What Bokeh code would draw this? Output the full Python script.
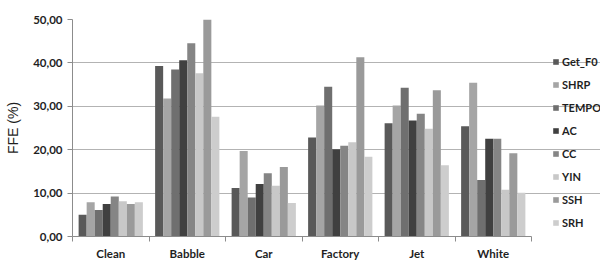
from bokeh.plotting import figure
from bokeh.models import ColumnDataSource, FixedTicker, Legend, LegendItem, Range1d
from bokeh.embed import file_html
from bokeh.resources import INLINE

categories = ["Clean", "Babble", "Car", "Factory", "Jet", "White"]
series_names = ["Get_F0", "SHRP", "TEMPO", "AC", "CC", "YIN", "SSH", "SRH"]
get_f0 = [5.0, 39.3, 11.2, 22.8, 26.1, 25.4]
shrp = [7.9, 31.8, 19.7, 30.2, 30.2, 35.4]
tempo = [6.1, 38.5, 9.0, 34.5, 34.3, 13.0]
ac = [7.5, 40.6, 12.1, 20.1, 26.7, 22.5]
cc = [9.2, 44.5, 14.6, 20.9, 28.3, 22.5]
yin = [8.1, 37.6, 11.7, 21.7, 24.8, 10.8]
ssh = [7.5, 50.0, 16.0, 41.3, 33.7, 19.2]
srh = [7.9, 27.6, 7.7, 18.4, 16.4, 10.1]
y_ticks = [0, 10, 20, 30, 40, 50]
y_tick_labels = ["0,00", "10,00", "20,00", "30,00", "40,00", "50,00"]

series_values = [get_f0, shrp, tempo, ac, cc, yin, ssh, srh]
colors = ["#595959", "#a5a5a5", "#6f6f6f", "#404040", "#858585", "#c8c8c8", "#9a9a9a", "#cdcdcd"]

W, H = 600, 262
LEFT, TOP, RIGHT, BOTTOM = 72, 19, 0, 25
plot_px = 459  # width of the category area
frame_px = W - LEFT - RIGHT
n = len(categories)
x_end = n * frame_px / plot_px

p = figure(width=W, height=H, output_backend="svg", toolbar_location=None,
           x_range=Range1d(0, x_end), y_range=Range1d(0, 50),
           min_border_left=LEFT, min_border_right=RIGHT, min_border_top=TOP,
           min_border_bottom=BOTTOM)
p.outline_line_color = None
p.background_fill_color = "white"

bw = 0.105
items = []
for j, (name, vals, c) in enumerate(zip(series_names, series_values, colors)):
    xs = [i + 0.5 + (j - 3.5) * bw for i in range(n)]
    src = ColumnDataSource(dict(x=xs, top=vals))
    r = p.vbar(x="x", top="top", width=bw, source=src, fill_color=c, line_color=None)
    items.append(LegendItem(label=name, renderers=[r]))

FONT = "Lato"
FS = "11.5px"
TXT = "#1f1f1f"

p.xaxis.bounds = (0, n)
p.xaxis.ticker = FixedTicker(ticks=[i + 0.5 for i in range(n)],
                             minor_ticks=list(range(n + 1)))
p.xaxis.major_label_overrides = {i + 0.5: c for i, c in enumerate(categories)}
p.xaxis.major_tick_out = 0
p.xaxis.major_tick_in = 0
p.xaxis.minor_tick_out = 5
p.xaxis.minor_tick_in = 0
p.xaxis.minor_tick_line_color = "#8c8c8c"
p.xaxis.axis_line_color = "#8c8c8c"
p.xaxis.major_label_standoff = 5
p.xaxis.major_label_text_font = FONT
p.xaxis.major_label_text_font_style = "bold"
p.xaxis.major_label_text_font_size = FS
p.xaxis.major_label_text_color = TXT

p.yaxis.ticker = FixedTicker(ticks=y_ticks, minor_ticks=[])
p.yaxis.major_label_overrides = {t: l for t, l in zip(y_ticks, y_tick_labels)}
p.yaxis.major_tick_out = 5
p.yaxis.major_tick_in = 0
p.yaxis.major_tick_line_color = "#8c8c8c"
p.yaxis.axis_line_color = "#8c8c8c"
p.yaxis.major_label_standoff = 5
p.yaxis.major_label_text_font = FONT
p.yaxis.major_label_text_font_style = "bold"
p.yaxis.major_label_text_font_size = FS
p.yaxis.major_label_text_color = TXT
p.yaxis.axis_label = "FFE (%)"
p.yaxis.axis_label_text_font = "Liberation Sans"
p.yaxis.axis_label_text_font_style = "normal"
p.yaxis.axis_label_text_font_size = "14px"
p.yaxis.axis_label_text_color = TXT
p.yaxis.axis_label_standoff = 9

p.xgrid.grid_line_color = None
p.ygrid.grid_line_color = "#b3b3b3"
p.ygrid.ticker = FixedTicker(ticks=y_ticks[1:])
p.ygrid.bounds = (0, n)

legend = Legend(items=items, location=(480, 6))
legend.border_line_color = None
legend.background_fill_alpha = 0
legend.padding = 0
legend.margin = 0
legend.spacing = 8
legend.glyph_width = 7
legend.glyph_height = 7
legend.label_height = 15
legend.label_standoff = 3
legend.label_text_font = FONT
legend.label_text_font_style = "bold"
legend.label_text_font_size = "11px"
legend.label_text_color = TXT
p.add_layout(legend, "center")

open("out.html", "w").write(file_html(p, INLINE))
